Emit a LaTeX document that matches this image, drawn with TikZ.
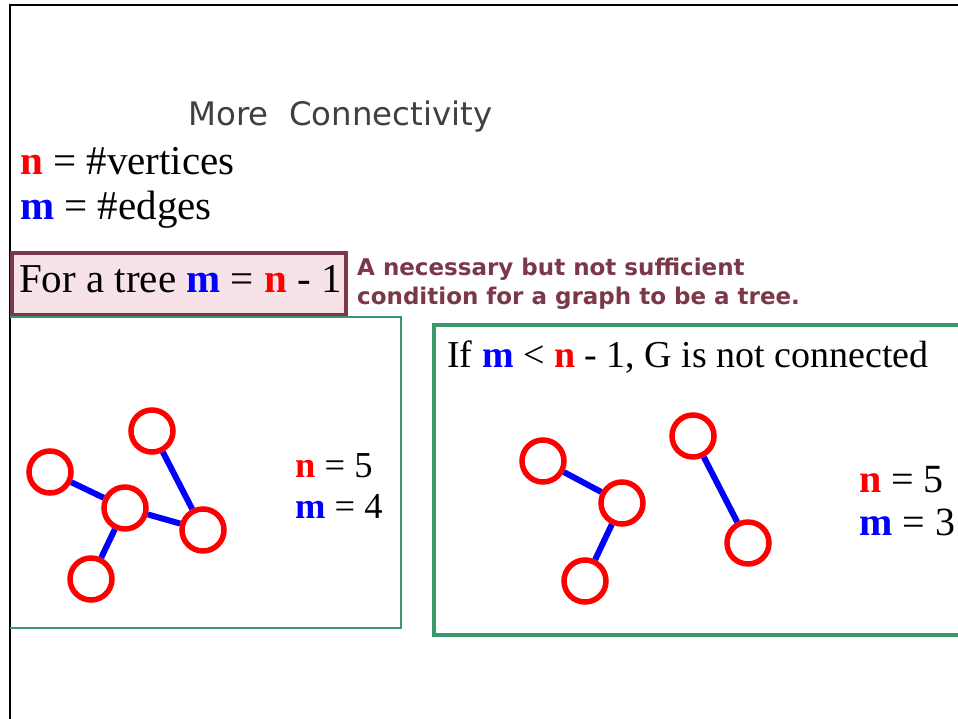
\documentclass[tikz,border=0pt]{standalone}
\usepackage{fontspec}
\usepackage{graphicx}
\setmainfont{Liberation Serif}
\newfontfamily\djv{DejaVu Sans}
\definecolor{maroon}{RGB}{123,56,72}
\definecolor{boxgreen}{RGB}{58,152,104}
\definecolor{titlegray}{RGB}{64,64,64}
\definecolor{pinkfill}{RGB}{246,226,231}
\definecolor{vred}{RGB}{255,0,0}
\definecolor{eblue}{RGB}{0,0,255}
\newcommand{\nn}{\textcolor{vred}{\textbf{n}}}
\newcommand{\mm}{\textcolor{eblue}{\textbf{m}}}
\begin{document}
\begin{tikzpicture}[x=1pt,y=-1pt,
  vtx/.style={circle,draw=vred,line width=5.5pt,minimum size=42pt,inner sep=0pt},
  edg/.style={draw=eblue,line width=6pt},
  gbox/.style={draw=boxgreen,line width=3pt},
  txt/.style={anchor=base west,inner sep=0pt,font=\fontsize{41}{44}\selectfont}
]
\useasboundingbox (0,0) rectangle (958,719);
% frame
\draw[line width=2.5pt] (10,719) -- (10,5) -- (958,5);
% title
\node[anchor=base west,inner sep=0pt,text=titlegray] (title) at (188,126)
  {\resizebox{304pt}{!}{\djv\fontsize{32}{36}\selectfont More\ \ Connectivity}};
% definitions
\node[txt] (defn) at (20,175) {\nn{} = \#vertices};
\node[txt] (defm) at (20,220) {\mm{} = \#edges};
% tree box
\draw[draw=maroon,fill=pinkfill,line width=4pt] (12,253) rectangle (346,315);
\node[txt] (tree) at (19,292) {For a tree \mm{} = \nn{} - 1};
% maroon note
\node[anchor=base west,inner sep=0pt,text=maroon,align=left,
  font=\djv\bfseries\fontsize{23}{29}\selectfont] (note) at (357,305)
  {A necessary but not sufficient\\condition for a graph to be a tree.};
% green boxes
\draw[gbox,line width=2.5pt] (10,317) -- (401,317) -- (401,628) -- (10,628);
\draw[gbox,line width=3.5pt] (960,325) -- (434,325) -- (434,635) -- (960,635);
% left graph
\node[vtx] (a) at (50,472) {};
\node[vtx] (b) at (152,431) {};
\node[vtx] (c) at (125,508) {};
\node[vtx] (d) at (203,530) {};
\node[vtx] (e) at (91,579) {};
\draw[edg] (a) -- (c);
\draw[edg] (b) -- (d);
\draw[edg] (c) -- (d);
\draw[edg] (c) -- (e);
\node[txt,font=\fontsize{36.5}{40}\selectfont] (ln) at (295,477) {\nn{} = 5};
\node[txt,font=\fontsize{36.5}{40}\selectfont] (lm) at (295,518) {\mm{} = 4};
% right box
\node[txt,font=\fontsize{38}{42}\selectfont] (cond) at (447,367) {If \mm{} < \nn{} - 1, G is not connected};
\node[vtx] (p) at (543,461) {};
\node[vtx] (q) at (622,503) {};
\node[vtx] (r) at (585,581) {};
\node[vtx] (s) at (693,436) {};
\node[vtx] (t) at (748,543) {};
\draw[edg] (p) -- (q);
\draw[edg] (q) -- (r);
\draw[edg] (s) -- (t);
\node[txt,font=\fontsize{40}{44}\selectfont] (rn) at (859,492) {\nn{} = 5};
\node[txt,font=\fontsize{40}{44}\selectfont] (rm) at (859,535) {\mm{} = 3};
\end{tikzpicture}
\end{document}
